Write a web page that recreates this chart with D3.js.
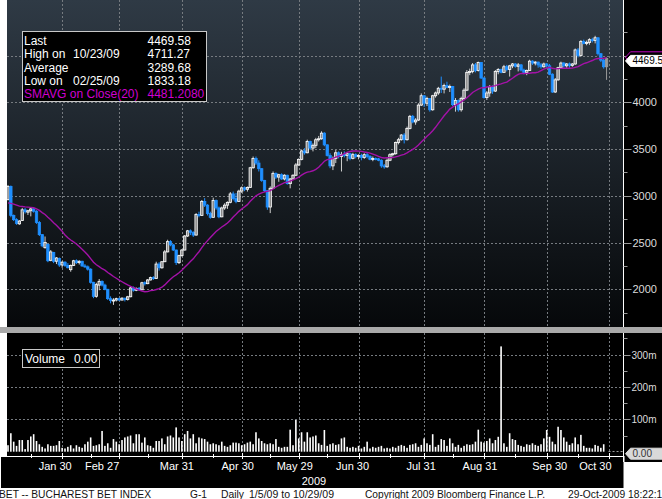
<!DOCTYPE html>
<html>
<head>
<meta charset="utf-8">
<script src="https://cdn.jsdelivr.net/npm/d3@7"></script>
<style>
  body { margin: 0; background: #fff; }
  svg { display: block; font-family: "Liberation Sans", Arial, sans-serif; }
</style>
</head>
<body>
<div class="content"></div>
<script>
// trading calendar (BET, daily 1/5/09 to 10/29/09)
var firstDay = "2009-01-05", lastDay = "2009-10-29";
var holidays = ["2009-04-20", "2009-05-01", "2009-06-08"];

// lead-in closes (late Dec 2008), only feed the 20 day average at the left edge
var closeDec08 = [2880,2905,2930,2950,2935,2910,2890,2905,2925,2940,2930,2915,2900,2920,2935,2910,2895,2905,2901];

// [open, high, low, close] per trading day
var ohlcJan = [[2960,3115,2950,3100],[3100,3110,2770,2790],[2790,2800,2730,2745],[2745,2760,2690,2705],[2700,2740,2690,2730],
  [2735,2870,2730,2850],[2850,2870,2810,2830],[2825,2850,2795,2840],[2840,2880,2780,2860],[2860,2870,2820,2835],
  [2835,2845,2700,2715],[2715,2730,2570,2585],[2585,2590,2450,2465],[2445,2565,2435,2500],[2480,2490,2290,2305],
  [2310,2420,2300,2400],[2395,2400,2280,2300],[2300,2345,2270,2335],[2330,2340,2240,2260],[2260,2300,2230,2290]];
var ohlcFeb = [[2290,2300,2240,2255],[2255,2280,2225,2230],[2210,2265,2188,2255],[2255,2315,2250,2305],[2305,2320,2270,2285],
  [2285,2310,2265,2300],[2300,2305,2240,2250],[2250,2270,2230,2240],[2240,2255,2200,2215],[2215,2225,2060,2075],
  [2075,2080,1905,1925],[1925,2070,1910,2050],[2045,2110,1990,2085],[2085,2095,2030,2045],[2045,2060,1990,2000],
  [2000,2005,1885,1900],[1900,1925,1850,1880],[1880,1905,1833.18,1885],[1885,1910,1870,1900],[1900,1910,1875,1885]];
var ohlcMar = [[1885,1915,1880,1905],[1905,1910,1870,1890],[1890,1930,1880,1920],[1920,2030,1915,2015],[2015,2030,1975,1990],
  [1990,2020,1980,2010],[2010,2025,1985,1995],[1995,2080,1990,2070],[2070,2085,2040,2060],[2060,2110,2055,2100],
  [2100,2135,2095,2125],[2125,2140,2100,2115],[2115,2295,2110,2270],[2270,2290,2200,2230],[2230,2300,2220,2295],
  [2295,2420,2290,2400],[2400,2530,2395,2510],[2510,2525,2460,2475],[2475,2485,2410,2420],[2420,2425,2260,2285],
  [2285,2370,2270,2360],[2360,2430,2350,2420]];
var ohlcApr = [[2420,2580,2415,2570],[2570,2635,2560,2625],[2625,2640,2580,2610],[2610,2620,2560,2580],[2580,2815,2575,2800],
  [2800,2830,2770,2790],[2790,2955,2785,2940],[2940,2975,2880,2900],[2900,2910,2790,2810],[2810,2830,2755,2770],
  [2770,2980,2765,2950],[2950,2960,2850,2870],[2870,2885,2760,2775],[2775,2885,2770,2870],[2870,2920,2850,2900],
  [2900,2940,2860,2930],[2930,3040,2920,3020],[3020,3045,2950,2970],[2970,3030,2920,2940],[2940,3065,2935,3050],
  [3050,3100,3030,3085]];
var ohlcMay = [[3085,3100,3050,3070],[3070,3100,3045,3090],[3090,3310,3085,3300],[3300,3420,3290,3400],[3400,3420,3330,3350],
  [3350,3380,3260,3290],[3290,3295,3150,3165],[3165,3170,3040,3055],[3055,3060,2850,2880],[2880,3100,2815,3080],
  [3080,3260,3075,3240],[3240,3250,3180,3200],[3200,3235,3150,3225],[3225,3240,3170,3180],[3180,3230,3165,3220],
  [3220,3225,3120,3130],[3130,3190,3080,3180],[3180,3230,3170,3220],[3220,3350,3210,3330],[3330,3400,3320,3390]];
var ohlcJun = [[3390,3495,3380,3480],[3480,3510,3440,3460],[3460,3600,3455,3580],[3580,3590,3490,3510],[3510,3560,3475,3540],
  [3540,3620,3510,3600],[3600,3640,3580,3610],[3610,3690,3600,3670],[3670,3680,3530,3545],[3545,3550,3420,3430],
  [3430,3455,3295,3320],[3320,3420,3275,3400],[3400,3490,3350,3460],[3460,3475,3400,3420],[3420,3470,3260,3440],
  [3440,3475,3410,3430],[3430,3470,3370,3450],[3450,3460,3380,3400],[3400,3460,3390,3440],[3440,3455,3400,3420],
  [3420,3445,3390,3430]];
var ohlcJul = [[3430,3450,3380,3410],[3410,3455,3395,3440],[3440,3460,3400,3420],[3420,3435,3380,3390],[3390,3420,3370,3400],
  [3400,3410,3380,3395],[3395,3405,3370,3380],[3380,3390,3300,3320],[3320,3340,3290,3310],[3310,3400,3300,3380],
  [3380,3455,3370,3440],[3440,3460,3420,3450],[3450,3580,3440,3570],[3570,3620,3550,3600],[3600,3660,3590,3650],
  [3650,3670,3560,3600],[3600,3740,3590,3720],[3720,3865,3710,3850],[3850,3865,3775,3790],[3790,3830,3760,3810],
  [3810,3990,3800,3970],[3970,4095,3960,4070],[4070,4075,3950,3990]];
var ohlcAug = [[3990,4060,3960,4040],[4040,4045,3900,3920],[3920,4080,3910,4070],[4070,4115,4050,4100],[4100,4165,4080,4150],
  [4150,4275,4100,4140],[4140,4200,4095,4180],[4180,4220,4150,4160],[4160,4190,4110,4170],[4170,4175,3960,3975],
  [3975,4045,3900,4020],[4020,4030,3900,3920],[3920,4060,3900,4040],[4040,4150,4025,4130],[4130,4345,4120,4320],
  [4320,4360,4290,4330],[4330,4420,4310,4400],[4400,4420,4320,4340],[4340,4435,4330,4425],[4425,4430,4250,4260],
  [4260,4265,4040,4050]];
var ohlcSep = [[4050,4120,4025,4100],[4100,4185,4060,4170],[4170,4180,4090,4120],[4120,4345,4110,4330],[4330,4365,4300,4350],
  [4350,4360,4310,4320],[4320,4400,4315,4380],[4380,4400,4330,4350],[4350,4400,4275,4390],[4390,4420,4365,4410],
  [4410,4420,4370,4385],[4385,4420,4330,4400],[4400,4410,4330,4345],[4345,4360,4300,4320],[4320,4350,4290,4340],
  [4340,4455,4335,4440],[4440,4450,4400,4420],[4420,4440,4395,4430],[4430,4435,4370,4400],[4400,4420,4360,4380],
  [4380,4425,4370,4410],[4410,4420,4370,4390]];
var ohlcOct = [[4390,4410,4290,4300],[4300,4310,4100,4110],[4110,4260,4100,4240],[4240,4380,4230,4370],[4370,4435,4360,4420],
  [4420,4430,4370,4390],[4390,4420,4370,4410],[4410,4425,4370,4395],[4395,4420,4380,4410],[4410,4575,4400,4560],
  [4560,4580,4480,4500],[4500,4665,4490,4650],[4650,4670,4620,4630],[4630,4660,4610,4640],[4640,4685,4615,4670],
  [4670,4690,4640,4660],[4660,4711.27,4630,4690],[4690,4695,4500,4520],[4520,4525,4430,4450],[4450,4470,4360,4380],
  [4380,4480,4240,4469.58]];

// daily volume, millions
var volumeM = [
  20,57,31,18,36,36,8,36,47,54, 33,23,15,10,23,18,18,20,33,12,
  10,15,20,10,20,15,12,23,31,44, 18,20,23,64,18,26,12,39,31,23,
  36,44,47,50,26,54,54,28,44,20, 18,12,33,33,41,23,47,50,44,75,
  44,33,54,64,41,54,26,44,41,39, 31,23,26,23,20,31,18,15,20,28,
  28,26,20,23,28,31,23,60,41,33, 26,23,26,23,39,15,12,15,15,68,
  20,98,41,60,31,60,44,47,50,26, 21,67,18,23,26,21,23,41,44,15,
  12,15,12,18,10,15,31,10,15,12, 15,18,10,12,10,15,12,18,21,18,
  12,21,23,26,15,21,41,26,21,54, 15,21,39,36,18,41,26,15,21,12,
  18,23,21,23,31,68,31,28,33,41, 26,36,46,325,26,15,57,39,36,21,
  18,15,23,21,26,21,18,23,41,67, 46,31,23,77,67,44,31,21,26,44,
  23,52,18,12,12,10,21,18,12,23,0];

var tickDates = ["2009-01-30","2009-02-27","2009-03-31","2009-04-30","2009-05-29","2009-06-30","2009-07-31","2009-08-31","2009-09-30","2009-10-30"];
var tickLabels = ["Jan 30","Feb 27","Mar 31","Apr 30","May 29","Jun 30","Jul 31","Aug 31","Sep 30","Oct 30"];
var minorDates = ["2009-01-15","2009-02-13","2009-03-13","2009-04-15","2009-05-15","2009-06-15","2009-07-15","2009-08-14","2009-09-15","2009-10-15"];
var priceTicks = [2000, 2500, 3000, 3500, 4000, 4500];
var priceLabels = [2000, 2500, 3000, 3500, 4000];
var priceMinor = [1750, 2250, 2750, 3250, 3750, 4250, 4750];
var volTicks = [100, 200, 300];
var volMinor = [50, 150, 250, 350];
var statLabels = [["Last", ""], ["High on", "10/23/09"], ["Average", ""], ["Low on", "02/25/09"], ["SMAVG on Close(20)", ""]];
var statValues = ["4469.58", "4711.27", "3289.68", "1833.18", "4481.2080"];
var lastPrice = 4469.58, lastSma = 4481.208, lastVolume = "0.00";
var footer = [["BET -- BUCHAREST BET INDEX", -1, 152], ["G-1", 190, 17], ["Daily", 221, 23], ["1/5/09 to 10/29/09", 249, 85],
  ["Copyright 2009 Bloomberg Finance L.P.", 365, 180], ["29-Oct-2009 18:22:10", 568, 100]];

var parse = d3.timeParse("%Y-%m-%d"), fmt = d3.timeFormat("%Y-%m-%d");
var days = d3.timeDay.range(parse(firstDay), d3.timeDay.offset(parse(lastDay), 1))
  .filter(function (d) { return d.getDay() % 6 !== 0 && holidays.indexOf(fmt(d)) < 0; });
var ohlc = [].concat(ohlcJan, ohlcFeb, ohlcMar, ohlcApr, ohlcMay, ohlcJun, ohlcJul, ohlcAug, ohlcSep, ohlcOct);
var candles = ohlc.map(function (r, i) {
  return { i: i, date: days[i], o: r[0], h: r[1], l: r[2], c: r[3], v: volumeM[i] };
});
// 20 day simple moving average on close
var allCloses = closeDec08.concat(candles.map(function (d) { return d.c; }));
candles.forEach(function (d, i) {
  var k = i + closeDec08.length;
  d.sma = d3.mean(allCloses.slice(Math.max(0, k - 19), k + 1));
});
function dayIndex(s) { return d3.bisectLeft(days, parse(s)); }

var W = 662, H = 499;
var left = 7, axisX = 623.5, mainBottom = 327, volTop = 333, volBottom = 456;

var x = d3.scaleLinear().domain([0, 211]).range([8, 609.4]);
var y = d3.scaleLinear().domain([2000, 4000]).range([289.3, 102.3]);
var yv = d3.scaleLinear().domain([0, 300]).range([451.7, 354.5]);

var svg = d3.select(".content").append("svg")
  .attr("width", W)
  .attr("height", H);

var defs = svg.append("defs");
var grad = defs.append("linearGradient")
  .attr("id", "panelGrad")
  .attr("x1", "0%").attr("y1", "0%")
  .attr("x2", "0%").attr("y2", "100%");
grad.append("stop").attr("offset", "0%").style("stop-color", "#2f3a45");
grad.append("stop").attr("offset", "100%").style("stop-color", "#06080a");
defs.append("clipPath").attr("id", "mainClip").append("rect")
  .attr("x", left).attr("y", 0).attr("width", axisX - left).attr("height", mainBottom);

svg.append("rect").attr("width", W).attr("height", H).attr("fill", "#fff");

// right axis column
svg.append("rect").attr("x", axisX).attr("y", 0).attr("width", W - axisX).attr("height", 462).attr("fill", "#000");
// main panel
svg.append("rect").attr("x", left).attr("y", 0).attr("width", axisX - left).attr("height", mainBottom)
  .attr("fill", "url(#panelGrad)");
// volume panel
svg.append("rect").attr("x", left).attr("y", volTop).attr("width", axisX - left).attr("height", volBottom - volTop)
  .attr("fill", "#000");
// separator
svg.append("rect").attr("x", 0).attr("y", mainBottom).attr("width", W).attr("height", volTop - mainBottom)
  .attr("fill", "#a9a9a9");
// x axis band
svg.append("rect").attr("x", 0.5).attr("y", volBottom + 0.5).attr("width", axisX).attr("height", 32)
  .attr("fill", "#000").attr("stroke", "#fff");

var gridColor = "#767b80";
var gridMain = svg.append("g").attr("stroke", gridColor).attr("stroke-dasharray", "2,2").attr("stroke-width", 1);
priceTicks.forEach(function (p) {
  gridMain.append("line").attr("x1", left).attr("x2", axisX)
    .attr("y1", Math.round(y(p)) + 0.5).attr("y2", Math.round(y(p)) + 0.5);
});
tickDates.forEach(function (s) {
  var gx = Math.round(x(dayIndex(s))) + 0.5;
  gridMain.append("line").attr("x1", gx).attr("x2", gx).attr("y1", 0).attr("y2", mainBottom);
  gridMain.append("line").attr("x1", gx).attr("x2", gx).attr("y1", volTop).attr("y2", volBottom);
});
volTicks.forEach(function (v) {
  gridMain.append("line").attr("x1", left).attr("x2", axisX)
    .attr("y1", Math.round(yv(v)) + 0.5).attr("y2", Math.round(yv(v)) + 0.5);
});

// candles
var cg = svg.append("g").attr("clip-path", "url(#mainClip)");
var up = "#ffffff", upFill = "#8a8a8a", down = "#1f8fff", lastFill = "#9a9a9a";
function isLast(d) { return d.i === candles.length - 1; }
cg.selectAll(".wick").data(candles).enter().append("line")
  .attr("x1", function (d) { return x(d.i); })
  .attr("x2", function (d) { return x(d.i); })
  .attr("y1", function (d) { return y(d.h); })
  .attr("y2", function (d) { return y(d.l); })
  .attr("stroke", function (d) { return isLast(d) ? lastFill : d.c >= d.o ? "#d0d0d0" : down; })
  .attr("stroke-width", 1);
cg.selectAll(".body").data(candles).enter().append("rect")
  .attr("x", function (d) { return x(d.i) - 1.2; })
  .attr("width", 2.4)
  .attr("y", function (d) { return y(Math.max(d.o, d.c)); })
  .attr("height", function (d) { return Math.max(1, Math.abs(y(d.o) - y(d.c))); })
  .attr("fill", function (d) { return isLast(d) ? lastFill : d.c >= d.o ? upFill : down; })
  .attr("stroke", function (d) { return isLast(d) ? lastFill : d.c >= d.o ? up : down; })
  .attr("stroke-width", 0.8);

// SMAVG line
cg.append("path").datum(candles)
  .attr("fill", "none")
  .attr("stroke", "#a412a8")
  .attr("stroke-width", 1.4)
  .attr("d", d3.line().x(function (d) { return x(d.i); }).y(function (d) { return y(d.sma); }));

// volume bars
svg.append("g").selectAll("rect").data(candles).enter().append("rect")
  .attr("x", function (d) { return x(d.i) - 0.8; })
  .attr("width", 1.6)
  .attr("y", function (d) { return yv(d.v); })
  .attr("height", function (d) { return yv(0) - yv(d.v); })
  .attr("fill", "#fff");
svg.append("line").attr("x1", x(candles.length - 1) + 2).attr("x2", axisX)
  .attr("y1", 451.5).attr("y2", 451.5)
  .attr("stroke", "#999").attr("stroke-dasharray", "2,2");

// axis line on the right
svg.append("line").attr("x1", axisX).attr("x2", axisX).attr("y1", 0).attr("y2", 462)
  .attr("stroke", "#fff").attr("stroke-width", 1);
svg.append("rect").attr("x", axisX - 0.5).attr("y", mainBottom).attr("width", 2).attr("height", volTop - mainBottom)
  .attr("fill", "#a9a9a9");

var axisG = svg.append("g").attr("font-size", "11px").attr("fill", "#dcdcdc");
priceTicks.forEach(function (p) {
  var ty = Math.round(y(p)) + 0.5;
  axisG.append("line").attr("x1", axisX).attr("x2", axisX + 8).attr("y1", ty).attr("y2", ty)
    .attr("stroke", "#9a9a9a");
});
priceLabels.forEach(function (p) {
  axisG.append("text").attr("x", axisX + 9).attr("y", Math.round(y(p)) + 0.5).attr("dy", "0.35em").text(p);
});
priceMinor.forEach(function (p) {
  var ty = Math.round(y(p)) + 0.5;
  axisG.append("line").attr("x1", axisX).attr("x2", axisX + 4).attr("y1", ty).attr("y2", ty)
    .attr("stroke", "#9a9a9a");
});
volTicks.forEach(function (v) {
  var ty = Math.round(yv(v)) + 0.5;
  axisG.append("line").attr("x1", axisX).attr("x2", axisX + 7).attr("y1", ty).attr("y2", ty)
    .attr("stroke", "#9a9a9a");
  axisG.append("text").attr("x", axisX + 8).attr("y", ty).attr("dy", "0.35em")
    .attr("font-size", "10px").text(v + "m");
});
volMinor.forEach(function (v) {
  var ty = Math.round(yv(v)) + 0.5;
  axisG.append("line").attr("x1", axisX).attr("x2", axisX + 4).attr("y1", ty).attr("y2", ty)
    .attr("stroke", "#9a9a9a");
});

// value tags on the price axis
function tag(cy, h, fill, stroke) {
  var x0 = axisX + 2;
  return svg.append("path")
    .attr("d", "M" + x0 + "," + cy + "L" + (x0 + 5) + "," + (cy - h / 2) + "H" + (W + 5) +
      "V" + (cy + h / 2) + "H" + (x0 + 5) + "Z")
    .attr("fill", fill).attr("stroke", stroke);
}
tag(y(lastSma), 11, "#000", "#c000c0");
tag(y(lastPrice) + 2.5, 11, "#fff", "#fff");
svg.append("text").attr("x", axisX + 9).attr("y", y(lastPrice) + 2.5).attr("dy", "0.35em")
  .attr("font-size", "10px").attr("fill", "#000").text(d3.format(".2f")(lastPrice));
tag(yv(0) + 2, 11, "#d9d9d9", "#d9d9d9");
svg.append("text").attr("x", axisX + 9).attr("y", yv(0) + 2).attr("dy", "0.35em")
  .attr("font-size", "10px").attr("fill", "#333").text(lastVolume);

// x axis ticks and labels
var xa = svg.append("g").attr("fill", "#fff").attr("font-size", "11px");
tickDates.forEach(function (s, k) {
  var tx = Math.round(x(dayIndex(s))) + 0.5;
  xa.append("line").attr("x1", tx).attr("x2", tx).attr("y1", volBottom - 3).attr("y2", volBottom + 3)
    .attr("stroke", "#fff");
});
minorDates.forEach(function (s) {
  var tx = Math.round(x(dayIndex(s))) + 0.5;
  xa.append("line").attr("x1", tx).attr("x2", tx).attr("y1", volBottom - 2).attr("y2", volBottom + 2)
    .attr("stroke", "#fff");
});
var labelShift = [-7, -17, -5, -4, -4, -6, -3, -4, 3, -14];
tickDates.forEach(function (s, k) {
  xa.append("text").attr("x", x(dayIndex(s)) + labelShift[k]).attr("y", 470)
    .attr("text-anchor", "middle").text(tickLabels[k]);
});
xa.append("text").attr("x", 314).attr("y", 485).attr("text-anchor", "middle").text("2009");

// legend box
var lg = svg.append("g").attr("font-size", "12px");
lg.append("rect").attr("x", 22.5).attr("y", 31.5).attr("width", 184).attr("height", 70)
  .attr("fill", "#000").attr("stroke", "#c8c8c8");
statLabels.forEach(function (lab, k) {
  var ty = 45 + k * 13.3;
  var col = k === 4 ? "#d000d0" : "#fff";
  lg.append("text").attr("x", 24).attr("y", ty).attr("fill", col).text(lab[0]);
  if (lab[1]) lg.append("text").attr("x", 73).attr("y", ty).attr("fill", col).text(lab[1]);
  lg.append("text").attr("x", 147.5).attr("y", ty).attr("fill", col).text(statValues[k]);
});

var vl = svg.append("g").attr("font-size", "12px").attr("fill", "#fff");
vl.append("rect").attr("x", 22.5).attr("y", 349.5).attr("width", 77).attr("height", 18)
  .attr("fill", "#000").attr("stroke", "#c8c8c8");
vl.append("text").attr("x", 25).attr("y", 363).text("Volume");
vl.append("text").attr("x", 74).attr("y", 363).text(lastVolume);

// footer
var ft = svg.append("g").attr("font-size", "11px").attr("fill", "#111");
footer.forEach(function (f) {
  ft.append("text").attr("x", f[1]).attr("y", 498)
    .attr("textLength", f[2]).attr("lengthAdjust", "spacingAndGlyphs").text(f[0]);
});
</script>
</body>
</html>
